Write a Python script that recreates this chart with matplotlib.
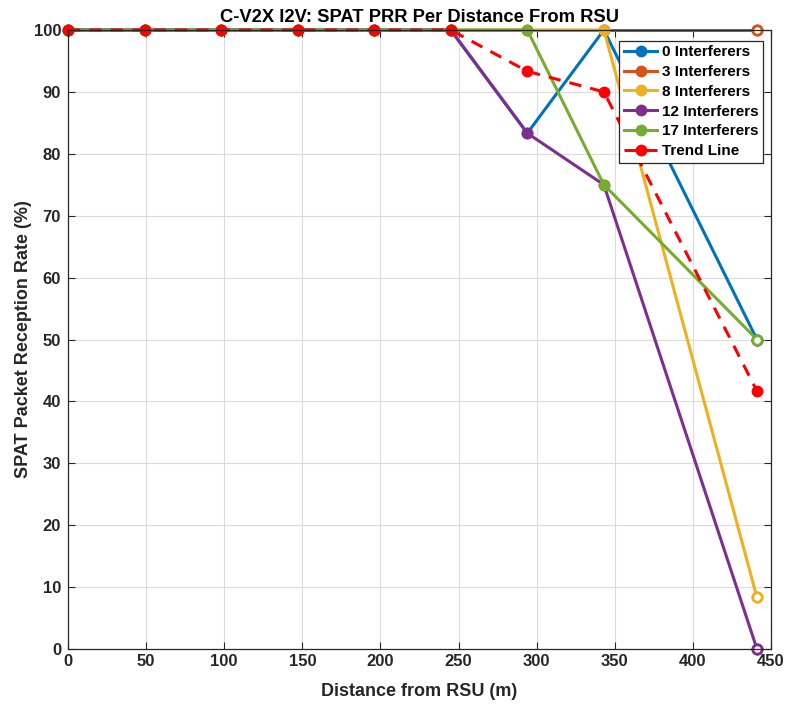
import matplotlib
matplotlib.use("Agg")
import matplotlib.pyplot as plt

plt.rcParams['font.family'] = ['Liberation Sans', 'DejaVu Sans']
plt.rcParams['font.weight'] = 'bold'

distance = [0, 49, 98, 147, 196, 245, 294, 343, 441]
labels = ['0 Interferers', '3 Interferers', '8 Interferers', '12 Interferers', '17 Interferers']
prr_0 = [100, 100, 100, 100, 100, 100, 83.33, 100, 50]
prr_3 = [100, 100, 100, 100, 100, 100, 100, 100, 100]
prr_8 = [100, 100, 100, 100, 100, 100, 100, 100, 8.33]
prr_12 = [100, 100, 100, 100, 100, 100, 83.33, 75, 0]
prr_17 = [100, 100, 100, 100, 100, 100, 100, 75, 50]
trend = [100, 100, 100, 100, 100, 100, 93.33, 90, 41.67]

colors = ['#0072BD', '#D95319', '#EDB120', '#7E2F8E', '#77AC30']
series = [prr_0, prr_3, prr_8, prr_12, prr_17]

fig = plt.figure(figsize=(7.87, 7.04), dpi=100)
ax = fig.add_axes([0.0864, 0.0781, 0.8933, 0.8793])

lw = 2.2
ms = 7.5
for vals, c, lab in zip(series, colors, labels):
    ax.plot(distance, vals, '-', color=c, lw=lw, label=lab,
            marker='o', ms=ms, mfc=c, mec=c, clip_on=False)
    # final point drawn as an open circle
    ax.plot(distance[-1], vals[-1], 'o', ms=ms * 0.9, mfc='white', mec=c,
            mew=2.0, clip_on=False)

ax.plot(distance, trend, '--', color='red', lw=lw, dashes=(4, 3),
        marker='o', ms=ms, mfc='red', mec='red', label='Trend Line', clip_on=False)

ax.set_xlim(0, 450)
ax.set_ylim(0, 100)
ax.set_xticks(range(0, 451, 50))
ax.set_yticks(range(0, 101, 10))
ax.grid(True, color='#dcdcdc', lw=0.8)
ax.set_axisbelow(True)
ax.tick_params(direction='in', length=5, width=0.8, top=True, right=True,
               labelsize=12, colors='#262626')
ax.tick_params(axis='y', pad=5)
for s in ax.spines.values():
    s.set_color('#262626')
    s.set_linewidth(0.9)
ax.set_title('C-V2X I2V: SPAT PRR Per Distance From RSU', fontsize=13.2,
             fontweight='bold', pad=6)
ax.set_xlabel('Distance from RSU (m)', fontsize=13, fontweight='bold',
              color='#262626', labelpad=10)
ax.set_ylabel('SPAT Packet Reception Rate (%)', fontsize=13, fontweight='bold',
              color='#262626', labelpad=1)

leg = ax.legend(loc='upper right', bbox_to_anchor=(0.989, 0.983), fancybox=False,
                edgecolor='#262626', framealpha=1, fontsize=11, handlelength=2.2,
                borderpad=0.3, labelspacing=0.38, handletextpad=0.3, borderaxespad=0)
leg.get_frame().set_linewidth(0.9)
leg.set_zorder(5)

fig.savefig('out.png', dpi=100)
